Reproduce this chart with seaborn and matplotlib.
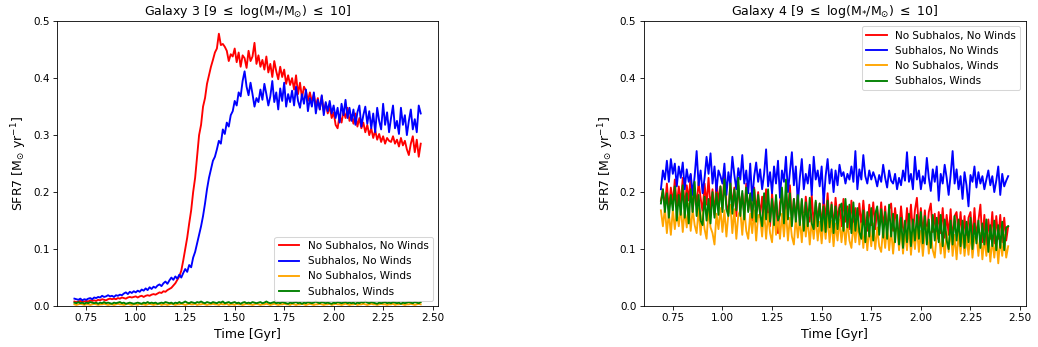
import numpy as np
import matplotlib
matplotlib.use("Agg")
import matplotlib.pyplot as plt
import seaborn as sns

# Time grid (Gyr), sampled every 0.01 Gyr from 0.69 to 2.44
time = np.round(np.arange(0.69, 2.4451, 0.01), 3)

labels = ["No Subhalos, No Winds", "Subhalos, No Winds", "No Subhalos, Winds", "Subhalos, Winds"]
colors = ["red", "blue", "orange", "green"]

g3_nosub_nowind = [
    0.008, 0.007, 0.008, 0.009, 0.007, 0.008, 0.009, 0.008, 0.010, 0.009,
    0.010, 0.009, 0.011, 0.010, 0.012, 0.011, 0.010, 0.012, 0.013, 0.012,
    0.013, 0.012, 0.014, 0.013, 0.015, 0.014, 0.013, 0.015, 0.016, 0.015,
    0.016, 0.017, 0.015, 0.017, 0.018, 0.016, 0.018, 0.019, 0.018, 0.020,
    0.021, 0.020, 0.022, 0.024, 0.023, 0.026, 0.025, 0.028, 0.030, 0.032,
    0.036, 0.040, 0.046, 0.052, 0.062, 0.080, 0.100, 0.120, 0.145, 0.168,
    0.200, 0.225, 0.262, 0.300, 0.318, 0.350, 0.365, 0.390, 0.405, 0.420,
    0.432, 0.445, 0.452, 0.478, 0.458, 0.460, 0.455, 0.448, 0.430, 0.442,
    0.438, 0.452, 0.428, 0.445, 0.420, 0.440, 0.435, 0.418, 0.448, 0.430,
    0.438, 0.462, 0.425, 0.440, 0.420, 0.432, 0.415, 0.438, 0.410, 0.425,
    0.402, 0.430, 0.412, 0.398, 0.420, 0.402, 0.415, 0.390, 0.405, 0.388,
    0.400, 0.380, 0.405, 0.372, 0.392, 0.365, 0.385, 0.378, 0.360, 0.375,
    0.358, 0.372, 0.350, 0.365, 0.345, 0.368, 0.342, 0.355, 0.338, 0.350,
    0.330, 0.340, 0.318, 0.312, 0.335, 0.322, 0.342, 0.330, 0.348, 0.325,
    0.335, 0.320, 0.338, 0.315, 0.330, 0.312, 0.322, 0.305, 0.318, 0.300,
    0.312, 0.295, 0.308, 0.292, 0.302, 0.288, 0.298, 0.285, 0.295, 0.290,
    0.288, 0.298, 0.285, 0.292, 0.280, 0.295, 0.282, 0.290, 0.275, 0.265,
    0.285, 0.298, 0.270, 0.292, 0.262, 0.285,
]

g3_sub_nowind = [
    0.013, 0.012, 0.011, 0.013, 0.010, 0.012, 0.011, 0.013, 0.014, 0.012,
    0.015, 0.014, 0.016, 0.015, 0.018, 0.016, 0.017, 0.019, 0.017, 0.018,
    0.016, 0.019, 0.018, 0.020, 0.019, 0.022, 0.024, 0.021, 0.025, 0.023,
    0.026, 0.024, 0.027, 0.025, 0.029, 0.027, 0.031, 0.028, 0.033, 0.030,
    0.034, 0.032, 0.036, 0.038, 0.035, 0.040, 0.043, 0.039, 0.045, 0.050,
    0.046, 0.052, 0.048, 0.055, 0.050, 0.058, 0.065, 0.060, 0.072, 0.068,
    0.085, 0.095, 0.110, 0.125, 0.140, 0.158, 0.180, 0.205, 0.225, 0.240,
    0.255, 0.262, 0.275, 0.290, 0.285, 0.310, 0.302, 0.322, 0.315, 0.335,
    0.342, 0.360, 0.352, 0.375, 0.368, 0.395, 0.412, 0.385, 0.370, 0.392,
    0.372, 0.350, 0.365, 0.358, 0.380, 0.362, 0.390, 0.372, 0.352, 0.368,
    0.395, 0.358, 0.375, 0.345, 0.382, 0.360, 0.392, 0.350, 0.372, 0.358,
    0.378, 0.352, 0.385, 0.360, 0.348, 0.372, 0.355, 0.380, 0.342, 0.365,
    0.350, 0.375, 0.338, 0.362, 0.345, 0.370, 0.335, 0.358, 0.342, 0.360,
    0.338, 0.352, 0.330, 0.348, 0.322, 0.355, 0.335, 0.362, 0.330, 0.348,
    0.325, 0.345, 0.318, 0.340, 0.352, 0.315, 0.335, 0.350, 0.320, 0.342,
    0.312, 0.338, 0.305, 0.348, 0.325, 0.310, 0.355, 0.318, 0.340, 0.305,
    0.330, 0.352, 0.312, 0.325, 0.302, 0.348, 0.318, 0.335, 0.300, 0.325,
    0.345, 0.310, 0.328, 0.305, 0.352, 0.338,
]

g3_nosub_wind = [
    0.003, 0.002, 0.003, 0.004, 0.003, 0.002, 0.003, 0.003, 0.002, 0.003,
    0.004, 0.003, 0.002, 0.003, 0.003, 0.004, 0.003, 0.002, 0.003, 0.003,
    0.002, 0.003, 0.004, 0.003, 0.003, 0.002, 0.003, 0.004, 0.003, 0.002,
    0.003, 0.003, 0.002, 0.004, 0.003, 0.003, 0.002, 0.003, 0.004, 0.003,
    0.002, 0.003, 0.003, 0.004, 0.002, 0.003, 0.003, 0.002, 0.003, 0.004,
    0.003, 0.002, 0.003, 0.003, 0.004, 0.003, 0.002, 0.003, 0.004, 0.003,
    0.003, 0.004, 0.002, 0.003, 0.003, 0.004, 0.003, 0.002, 0.003, 0.003,
    0.004, 0.003, 0.003, 0.002, 0.004, 0.003, 0.003, 0.004, 0.002, 0.003,
    0.003, 0.002, 0.004, 0.003, 0.003, 0.002, 0.003, 0.004, 0.003, 0.003,
    0.002, 0.003, 0.004, 0.003, 0.002, 0.003, 0.003, 0.004, 0.003, 0.002,
    0.003, 0.004, 0.003, 0.002, 0.003, 0.003, 0.004, 0.003, 0.003, 0.002,
    0.004, 0.003, 0.002, 0.003, 0.003, 0.004, 0.003, 0.002, 0.003, 0.004,
    0.003, 0.002, 0.003, 0.003, 0.004, 0.003, 0.002, 0.003, 0.003, 0.004,
    0.002, 0.003, 0.004, 0.003, 0.003, 0.002, 0.003, 0.004, 0.003, 0.002,
    0.003, 0.003, 0.004, 0.002, 0.003, 0.003, 0.004, 0.003, 0.002, 0.003,
    0.004, 0.003, 0.003, 0.002, 0.003, 0.004, 0.003, 0.003, 0.002, 0.003,
    0.003, 0.004, 0.002, 0.003, 0.003, 0.004, 0.003, 0.002, 0.003, 0.003,
    0.004, 0.003, 0.002, 0.003, 0.004, 0.003,
]

g3_sub_wind = [
    0.006, 0.005, 0.007, 0.005, 0.006, 0.004, 0.006, 0.005, 0.007, 0.006,
    0.005, 0.006, 0.004, 0.006, 0.005, 0.007, 0.005, 0.006, 0.005, 0.004,
    0.006, 0.005, 0.006, 0.007, 0.005, 0.006, 0.004, 0.005, 0.006, 0.005,
    0.004, 0.005, 0.006, 0.005, 0.004, 0.006, 0.005, 0.007, 0.005, 0.006,
    0.005, 0.006, 0.004, 0.005, 0.006, 0.005, 0.007, 0.006, 0.005, 0.006,
    0.004, 0.006, 0.005, 0.007, 0.005, 0.006, 0.008, 0.006, 0.005, 0.007,
    0.006, 0.005, 0.007, 0.006, 0.008, 0.006, 0.005, 0.007, 0.006, 0.005,
    0.007, 0.006, 0.005, 0.007, 0.006, 0.008, 0.005, 0.006, 0.007, 0.005,
    0.006, 0.007, 0.005, 0.006, 0.004, 0.006, 0.007, 0.005, 0.006, 0.005,
    0.007, 0.006, 0.005, 0.006, 0.007, 0.005, 0.006, 0.008, 0.006, 0.005,
    0.006, 0.007, 0.005, 0.006, 0.005, 0.007, 0.006, 0.005, 0.004, 0.006,
    0.005, 0.006, 0.007, 0.005, 0.006, 0.004, 0.006, 0.005, 0.007, 0.006,
    0.005, 0.006, 0.008, 0.006, 0.005, 0.007, 0.006, 0.005, 0.006, 0.005,
    0.004, 0.006, 0.005, 0.007, 0.006, 0.005, 0.006, 0.007, 0.005, 0.006,
    0.005, 0.006, 0.004, 0.006, 0.005, 0.007, 0.006, 0.008, 0.006, 0.005,
    0.007, 0.006, 0.005, 0.004, 0.006, 0.005, 0.006, 0.007, 0.005, 0.006,
    0.005, 0.007, 0.006, 0.005, 0.006, 0.004, 0.006, 0.005, 0.006, 0.007,
    0.006, 0.005, 0.007, 0.006, 0.005, 0.007,
]

g4_nosub_nowind = [
    0.185, 0.205, 0.172, 0.215, 0.168, 0.208, 0.180, 0.222, 0.175, 0.210,
    0.180, 0.225, 0.170, 0.212, 0.185, 0.230, 0.165, 0.205, 0.178, 0.218,
    0.190, 0.165, 0.215, 0.178, 0.225, 0.170, 0.205, 0.160, 0.220, 0.182,
    0.210, 0.170, 0.235, 0.180, 0.162, 0.218, 0.175, 0.208, 0.158, 0.212,
    0.172, 0.198, 0.160, 0.215, 0.168, 0.195, 0.150, 0.208, 0.165, 0.200,
    0.158, 0.192, 0.150, 0.205, 0.162, 0.140, 0.198, 0.155, 0.188, 0.128,
    0.182, 0.200, 0.150, 0.195, 0.160, 0.212, 0.148, 0.188, 0.155, 0.198,
    0.145, 0.185, 0.140, 0.192, 0.158, 0.148, 0.195, 0.142, 0.182, 0.152,
    0.180, 0.140, 0.190, 0.150, 0.198, 0.142, 0.182, 0.135, 0.190, 0.150,
    0.178, 0.140, 0.188, 0.148, 0.175, 0.135, 0.185, 0.145, 0.172, 0.138,
    0.180, 0.140, 0.185, 0.145, 0.132, 0.178, 0.142, 0.182, 0.135, 0.170,
    0.140, 0.182, 0.135, 0.175, 0.130, 0.170, 0.180, 0.132, 0.172, 0.138,
    0.130, 0.175, 0.138, 0.125, 0.172, 0.132, 0.178, 0.128, 0.168, 0.190,
    0.135, 0.172, 0.125, 0.168, 0.122, 0.165, 0.180, 0.130, 0.162, 0.118,
    0.165, 0.128, 0.172, 0.120, 0.160, 0.125, 0.170, 0.115, 0.158, 0.165,
    0.122, 0.165, 0.115, 0.158, 0.112, 0.155, 0.165, 0.115, 0.172, 0.120,
    0.150, 0.178, 0.112, 0.160, 0.100, 0.152, 0.118, 0.165, 0.110, 0.158,
    0.118, 0.160, 0.112, 0.155, 0.115, 0.140,
]

g4_sub_nowind = [
    0.205, 0.238, 0.222, 0.255, 0.218, 0.258, 0.232, 0.250, 0.210, 0.245,
    0.225, 0.252, 0.205, 0.240, 0.218, 0.232, 0.195, 0.228, 0.272, 0.212,
    0.238, 0.198, 0.225, 0.262, 0.232, 0.268, 0.215, 0.245, 0.202, 0.238,
    0.228, 0.215, 0.250, 0.195, 0.235, 0.212, 0.262, 0.230, 0.205, 0.242,
    0.222, 0.265, 0.215, 0.238, 0.198, 0.250, 0.185, 0.228, 0.252, 0.218,
    0.240, 0.205, 0.232, 0.275, 0.210, 0.235, 0.198, 0.245, 0.215, 0.255,
    0.190, 0.238, 0.218, 0.262, 0.200, 0.235, 0.270, 0.212, 0.245, 0.180,
    0.225, 0.258, 0.205, 0.232, 0.215, 0.248, 0.195, 0.262, 0.222, 0.238,
    0.210, 0.245, 0.180, 0.228, 0.258, 0.215, 0.240, 0.200, 0.238, 0.212,
    0.248, 0.228, 0.235, 0.215, 0.232, 0.222, 0.245, 0.218, 0.272, 0.205,
    0.240, 0.222, 0.265, 0.228, 0.215, 0.238, 0.222, 0.235, 0.225, 0.210,
    0.230, 0.218, 0.248, 0.225, 0.208, 0.238, 0.220, 0.215, 0.232, 0.205,
    0.225, 0.212, 0.238, 0.220, 0.270, 0.218, 0.232, 0.205, 0.262, 0.222,
    0.238, 0.205, 0.228, 0.215, 0.260, 0.225, 0.202, 0.240, 0.218, 0.245,
    0.185, 0.232, 0.215, 0.248, 0.225, 0.195, 0.230, 0.272, 0.215, 0.240,
    0.205, 0.228, 0.188, 0.235, 0.212, 0.175, 0.230, 0.218, 0.245, 0.208,
    0.235, 0.215, 0.228, 0.205, 0.222, 0.238, 0.212, 0.228, 0.200, 0.220,
    0.245, 0.195, 0.232, 0.210, 0.220, 0.228,
]

g4_nosub_wind = [
    0.168, 0.140, 0.172, 0.128, 0.165, 0.125, 0.170, 0.135, 0.168, 0.140,
    0.175, 0.130, 0.168, 0.138, 0.180, 0.132, 0.170, 0.142, 0.128, 0.172,
    0.125, 0.165, 0.135, 0.118, 0.170, 0.138, 0.128, 0.108, 0.162, 0.135,
    0.172, 0.130, 0.168, 0.122, 0.162, 0.178, 0.128, 0.170, 0.118, 0.160,
    0.168, 0.125, 0.172, 0.132, 0.118, 0.162, 0.128, 0.168, 0.115, 0.160,
    0.155, 0.122, 0.168, 0.118, 0.162, 0.128, 0.112, 0.165, 0.125, 0.158,
    0.118, 0.162, 0.122, 0.168, 0.115, 0.155, 0.122, 0.108, 0.158, 0.120,
    0.152, 0.112, 0.162, 0.122, 0.155, 0.108, 0.150, 0.118, 0.158, 0.115,
    0.148, 0.110, 0.152, 0.118, 0.158, 0.112, 0.150, 0.105, 0.145, 0.115,
    0.152, 0.112, 0.148, 0.108, 0.150, 0.115, 0.102, 0.145, 0.112, 0.150,
    0.108, 0.145, 0.102, 0.140, 0.098, 0.138, 0.105, 0.145, 0.100, 0.138,
    0.105, 0.095, 0.138, 0.102, 0.142, 0.098, 0.135, 0.092, 0.130, 0.140,
    0.098, 0.138, 0.092, 0.132, 0.098, 0.140, 0.090, 0.130, 0.100, 0.138,
    0.095, 0.132, 0.088, 0.128, 0.138, 0.092, 0.130, 0.098, 0.085, 0.128,
    0.132, 0.092, 0.125, 0.085, 0.130, 0.095, 0.138, 0.088, 0.125, 0.082,
    0.128, 0.092, 0.132, 0.088, 0.122, 0.090, 0.130, 0.085, 0.120, 0.125,
    0.088, 0.128, 0.082, 0.120, 0.088, 0.125, 0.078, 0.118, 0.085, 0.122,
    0.075, 0.118, 0.088, 0.125, 0.085, 0.105,
]

g4_sub_wind = [
    0.180, 0.205, 0.165, 0.198, 0.155, 0.195, 0.168, 0.210, 0.150, 0.195,
    0.160, 0.212, 0.155, 0.198, 0.145, 0.205, 0.165, 0.218, 0.158, 0.195,
    0.150, 0.142, 0.192, 0.150, 0.188, 0.145, 0.200, 0.155, 0.198, 0.160,
    0.210, 0.165, 0.222, 0.170, 0.158, 0.215, 0.162, 0.205, 0.168, 0.225,
    0.158, 0.202, 0.152, 0.208, 0.165, 0.198, 0.155, 0.205, 0.148, 0.195,
    0.162, 0.140, 0.198, 0.152, 0.205, 0.148, 0.188, 0.142, 0.195, 0.150,
    0.160, 0.208, 0.145, 0.222, 0.152, 0.198, 0.140, 0.188, 0.148, 0.195,
    0.142, 0.188, 0.132, 0.182, 0.140, 0.190, 0.145, 0.135, 0.185, 0.140,
    0.180, 0.132, 0.175, 0.130, 0.185, 0.138, 0.178, 0.128, 0.175, 0.135,
    0.172, 0.180, 0.132, 0.188, 0.138, 0.178, 0.128, 0.182, 0.132, 0.172,
    0.130, 0.118, 0.168, 0.112, 0.165, 0.122, 0.172, 0.115, 0.162, 0.175,
    0.125, 0.170, 0.120, 0.165, 0.118, 0.178, 0.122, 0.162, 0.112, 0.160,
    0.108, 0.155, 0.102, 0.150, 0.112, 0.162, 0.105, 0.152, 0.115, 0.160,
    0.118, 0.165, 0.110, 0.158, 0.108, 0.152, 0.102, 0.160, 0.115, 0.155,
    0.112, 0.160, 0.105, 0.152, 0.115, 0.100, 0.150, 0.108, 0.158, 0.115,
    0.152, 0.105, 0.150, 0.102, 0.148, 0.112, 0.155, 0.100, 0.145, 0.110,
    0.150, 0.102, 0.145, 0.108, 0.152, 0.095, 0.142, 0.105, 0.150, 0.098,
    0.142, 0.102, 0.148, 0.098, 0.138, 0.140,
]

panels = [
    ("Galaxy 3", [g3_nosub_nowind, g3_sub_nowind, g3_nosub_wind, g3_sub_wind], "lower right"),
    ("Galaxy 4", [g4_nosub_nowind, g4_sub_nowind, g4_nosub_wind, g4_sub_wind], "upper right"),
]

fig = plt.figure(figsize=(1038 / 75, 347 / 75), dpi=75)
ax_positions = [[0.055, 0.118, 0.367, 0.821], [0.620, 0.118, 0.368, 0.821]]

for pos, (name, series, loc) in zip(ax_positions, panels):
    ax = fig.add_axes(pos)
    for vals, lab, col in zip(series, labels, colors):
        sns.lineplot(x=time, y=np.array(vals), color=col, label=lab, ax=ax, linewidth=1.8)
    ax.set_ylim(0, 0.5)
    ax.set_xticks([0.75, 1.00, 1.25, 1.50, 1.75, 2.00, 2.25, 2.50])
    ax.tick_params(labelsize=10)
    ax.set_title(name + r" [9 $\leq$ log(M$_{*}$/M$_{\odot}$) $\leq$ 10]", fontsize=12)
    ax.set_xlabel("Time [Gyr]", fontsize=12)
    ax.set_ylabel(r"SFR7 [M$_{\odot}$ yr$^{-1}$]", fontsize=12)
    ax.legend(loc=loc, fontsize=10)

fig.savefig("out.png", dpi=75)
